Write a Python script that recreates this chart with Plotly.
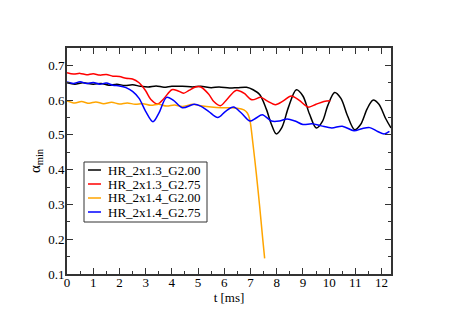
"""alpha_min over time for four HR runs."""

import plotly.graph_objects as go

# ---- data ---------------------------------------------------------------
T_BLACK = [0.0, 0.3, 0.6, 1.0, 1.3, 1.6, 1.9, 2.2, 2.5, 2.8, 3.1, 3.4, 3.7, 4.0,
           4.4, 4.8, 5.1, 5.5, 5.8, 6.2, 6.5, 6.85, 7.1, 7.35, 7.6, 7.8, 7.98,
           8.2, 8.45, 8.75, 9.0, 9.25, 9.51, 9.75, 9.95, 10.21, 10.45, 10.7,
           10.97, 11.2, 11.45, 11.67, 11.9, 12.15, 12.36]
A_BLACK = [0.650, 0.646, 0.650, 0.646, 0.648, 0.643, 0.646, 0.642, 0.644, 0.640,
           0.638, 0.641, 0.637, 0.640, 0.640, 0.638, 0.640, 0.636, 0.638, 0.635,
           0.636, 0.637, 0.630, 0.616, 0.575, 0.530, 0.503, 0.522, 0.580, 0.630,
           0.612, 0.560, 0.520, 0.540, 0.585, 0.622, 0.605, 0.555, 0.515, 0.530,
           0.575, 0.600, 0.588, 0.548, 0.520]

T_RED = [0.0, 0.25, 0.5, 0.75, 1.0, 1.25, 1.5, 1.75, 2.0, 2.25, 2.5, 2.75, 3.0,
         3.2, 3.45, 3.7, 4.0, 4.2, 4.45, 4.65, 4.9, 5.1, 5.4, 5.6, 5.85, 6.1,
         6.45, 6.75, 7.05, 7.4, 7.65, 7.95, 8.25, 8.55, 8.85, 9.2, 9.5, 9.8,
         10.05]
A_RED = [0.679, 0.675, 0.677, 0.673, 0.676, 0.672, 0.674, 0.669, 0.668, 0.663,
         0.661, 0.650, 0.627, 0.602, 0.589, 0.605, 0.630, 0.628, 0.620, 0.628,
         0.638, 0.638, 0.618, 0.596, 0.584, 0.602, 0.628, 0.620, 0.601, 0.608,
         0.597, 0.587, 0.598, 0.612, 0.600, 0.580, 0.588, 0.596, 0.598]

T_ORANGE = [0.0, 0.3, 0.55, 0.85, 1.1, 1.4, 1.7, 2.0, 2.3, 2.6, 2.9, 3.2, 3.5,
            3.8, 4.1, 4.4, 4.8, 5.1, 5.5, 5.9, 6.2, 6.5, 6.75, 6.88, 6.97,
            7.09, 7.22, 7.35, 7.47, 7.54]
A_ORANGE = [0.598, 0.592, 0.596, 0.591, 0.595, 0.590, 0.594, 0.589, 0.592, 0.588,
            0.590, 0.585, 0.588, 0.583, 0.586, 0.582, 0.588, 0.584, 0.580, 0.578,
            0.578, 0.577, 0.572, 0.563, 0.545, 0.477, 0.390, 0.294, 0.198, 0.145]

T_BLUE = [0.0, 0.25, 0.5, 0.75, 1.0, 1.25, 1.5, 1.75, 2.0, 2.25, 2.5, 2.75, 3.0,
          3.28, 3.5, 3.8, 4.05, 4.4, 4.85, 5.1, 5.4, 5.75, 6.05, 6.35, 6.65,
          6.97, 7.2, 7.45, 7.8, 8.1, 8.4, 8.7, 9.0, 9.35, 9.7, 10.1, 10.5,
          10.95, 11.25, 11.55, 11.85, 12.1, 12.3]
A_BLUE = [0.652, 0.648, 0.653, 0.648, 0.651, 0.646, 0.649, 0.643, 0.641, 0.636,
          0.625, 0.605, 0.568, 0.538, 0.562, 0.608, 0.600, 0.578, 0.588, 0.583,
          0.568, 0.550, 0.568, 0.580, 0.563, 0.540, 0.548, 0.558, 0.540, 0.540,
          0.546, 0.540, 0.530, 0.532, 0.526, 0.520, 0.525, 0.512, 0.518, 0.521,
          0.510, 0.503, 0.510]

NAMES = ["HR_2x1.3_G2.00", "HR_2x1.3_G2.75", "HR_2x1.4_G2.00", "HR_2x1.4_G2.75"]
COLORS = ["#000000", "#ff0000", "#ffa500", "#0000ff"]
SERIES = [(T_BLACK, A_BLACK), (T_RED, A_RED), (T_ORANGE, A_ORANGE), (T_BLUE, A_BLUE)]

FONT = "Liberation Serif, Times New Roman, serif"
FRAME = "#333333"

# The page body adds an 8px margin, so the figure is drawn 8px smaller and the
# plot area is given in window pixels minus that offset.
PAD = 8
W, H = 457 - PAD, 323 - PAD
L, R, T, B = 67 - PAD, 391 - PAD, 48 - PAD, 274 - PAD


def px(x, y):
    """Window pixel position -> paper coordinates."""
    return (x - PAD - L) / (R - L), (B - (y - PAD)) / (B - T)


fig = go.Figure()
for (t, a), name, color in zip(SERIES, NAMES, COLORS):
    fig.add_scatter(
        x=t, y=a, mode="lines", name=name,
        line=dict(color=color, width=1.5, shape="spline", smoothing=0.9),
        showlegend=False,
    )

# Hand-built legend: short line samples like the original
x0, y0 = px(84, 162)
x1, y1 = px(207, 222)
fig.add_shape(type="rect", xref="paper", yref="paper", x0=x0, y0=y0, x1=x1, y1=y1,
              line=dict(color=FRAME, width=1), fillcolor="white", layer="above")
for i, (name, color) in enumerate(zip(NAMES, COLORS)):
    yc = 170 + 14 * i
    lx0, ly = px(88, yc)
    lx1, _ = px(101, yc)
    fig.add_shape(type="line", xref="paper", yref="paper", x0=lx0, y0=ly, x1=lx1, y1=ly,
                  line=dict(color=color, width=1.5), layer="above")
    tx, _ = px(106, yc)
    fig.add_annotation(x=tx, y=ly, xref="paper", yref="paper", text=name,
                       showarrow=False, xanchor="left", yanchor="middle",
                       font=dict(family=FONT, size=13, color="black"))

axis_common = dict(
    showline=True, linecolor=FRAME, linewidth=2, mirror="allticks",
    ticks="inside", ticklen=6, tickwidth=1, tickcolor=FRAME,
    showgrid=False, zeroline=False,
    tickfont=dict(family=FONT, size=13, color="black"),
)

fig.update_layout(
    width=W, height=H,
    margin=dict(l=L, r=W - R, t=T, b=H - B),
    paper_bgcolor="white", plot_bgcolor="white",
    font=dict(family=FONT, size=13, color="black"),
    xaxis=dict(
        range=[0, 12.36], dtick=1, tick0=0, ticklabelstandoff=-5,
        minor=dict(ticks="inside", ticklen=3, dtick=0.5, tickcolor=FRAME),
        title=dict(text="t [ms]", standoff=0, font=dict(family=FONT, size=13)),
        **axis_common,
    ),
    yaxis=dict(
        range=[0.1, 0.75], dtick=0.1, tick0=0.1, ticklabelstandoff=-2,
        minor=dict(ticks="inside", ticklen=3, dtick=0.05, tickcolor=FRAME),
        title=dict(text="α<sub>min</sub>", standoff=4, font=dict(family=FONT, size=15)),
        **axis_common,
    ),
)

fig.write_html("out.html")
